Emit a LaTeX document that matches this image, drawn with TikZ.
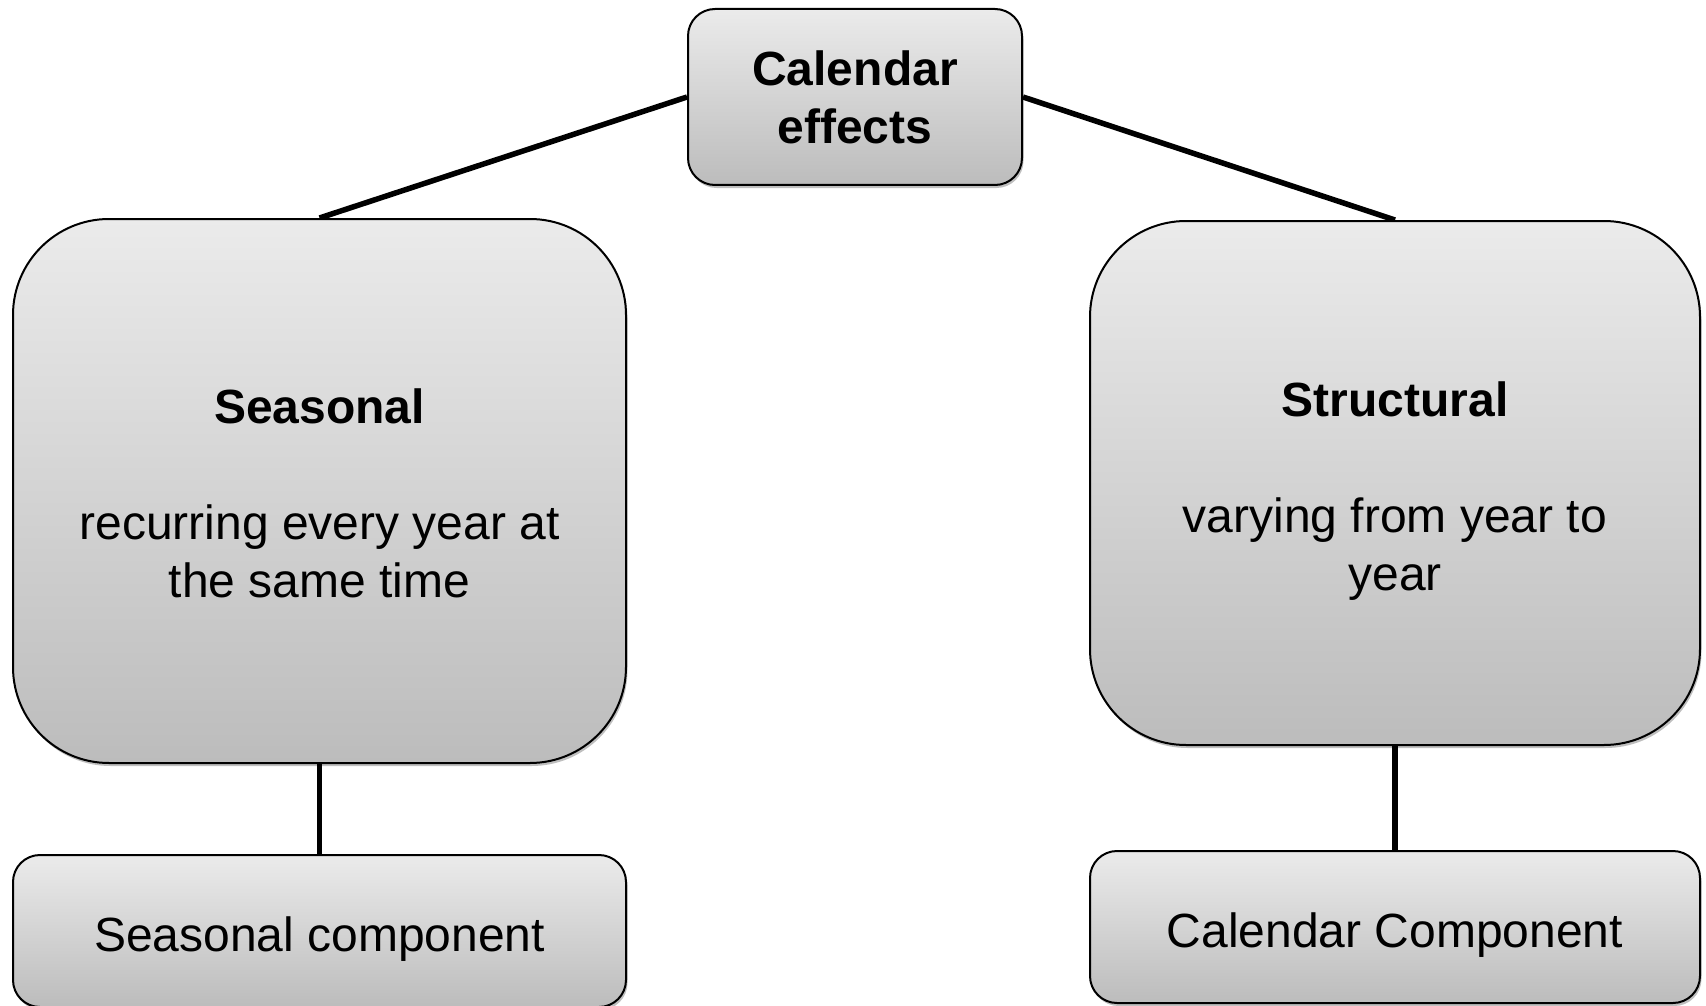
\documentclass[tikz,border=0pt]{standalone}
\usepackage{fontspec}
\setmainfont{Liberation Sans}
\usetikzlibrary{shadows,backgrounds}
\definecolor{boxtop}{HTML}{EBEBEB}
\definecolor{boxbot}{HTML}{BCBCBC}
\newcommand{\lowerby}[1]{\rule{0pt}{\dimexpr 36pt+#1\relax}}
\begin{document}
\begin{tikzpicture}[x=1pt,y=-1pt,
  box/.style={draw=black, line width=2pt, top color=boxtop, bottom color=boxbot,
    align=center, font=\fontsize{48}{58}\selectfont, inner sep=0pt,
    drop shadow={shadow xshift=1.5pt, shadow yshift=-3pt, opacity=0.25, fill=black}},
  link/.style={line width=5.5pt, black}]
\useasboundingbox (0,0) rectangle (1706,1006);
\node[box, minimum width=334, minimum height=176, rounded corners=27] (cal) at (855,97)
  {\textbf{Calendar}\\\textbf{effects}};
\node[box, minimum width=613, minimum height=544, rounded corners=96] (sea) at (319.5,491)
  {\lowerby{4pt}\textbf{Seasonal}\\[58pt]recurring every year at\\the same time};
\node[box, minimum width=610, minimum height=524, rounded corners=96] (str) at (1395,483)
  {\lowerby{14pt}\textbf{Structural}\\[58pt]varying from year to\\year};
\node[box, minimum width=613, minimum height=152, rounded corners=27] (seacomp) at (319.5,931)
  {\lowerby{14pt}Seasonal component};
\node[box, minimum width=610, minimum height=152, rounded corners=27] (calcomp) at (1395,927)
  {\lowerby{14pt}Calendar Component};
\begin{scope}[on background layer]
\draw[link] (cal.west) -- (sea.north);
\draw[link] (cal.east) -- (str.north);
\draw[link] (sea.south) -- (seacomp.north);
\draw[link] (str.south) -- (calcomp.north);
\end{scope}
\end{tikzpicture}
\end{document}
